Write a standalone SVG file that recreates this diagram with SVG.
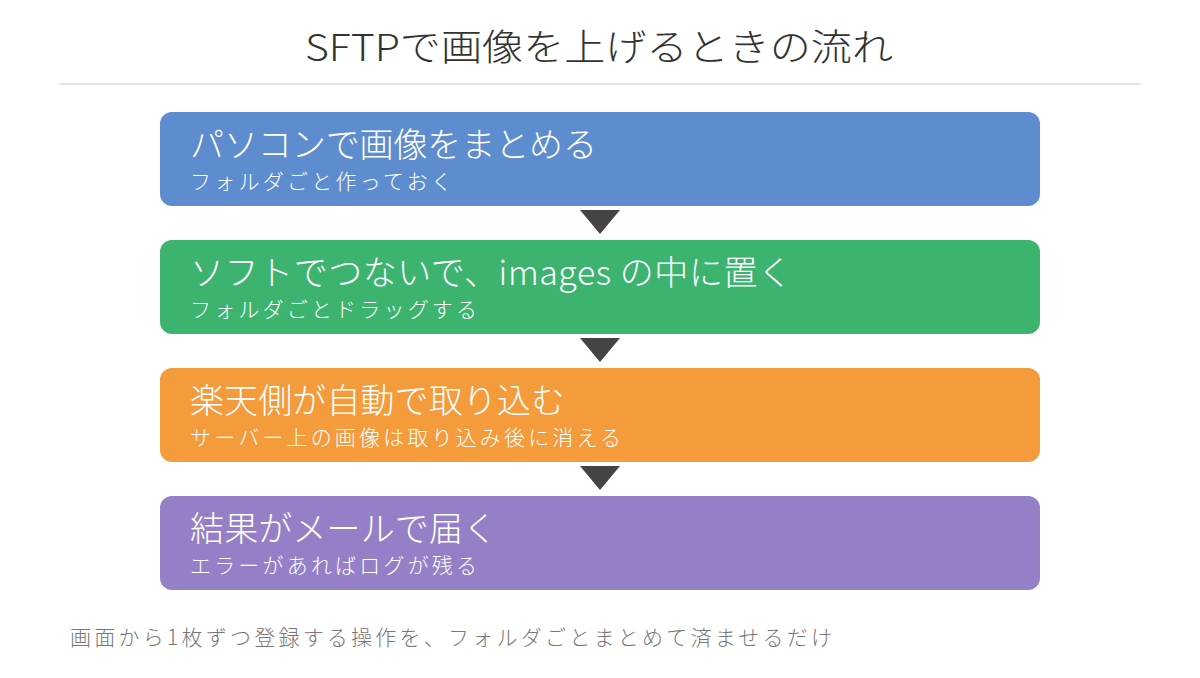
<svg xmlns="http://www.w3.org/2000/svg" width="1200" height="678" viewBox="0 0 1200 678">
<style>
.t{font-family:"Noto Sans CJK JP","Noto Sans",sans-serif;font-weight:300;}
.m{font-size:34px;fill:#fff;}
.s{font-size:21px;fill:#fff;}
.a{fill:#444;}
</style>
<rect width="1200" height="678" fill="#fff"/>
<text class="t" x="305" y="61" font-size="37" fill="#333" textLength="588" lengthAdjust="spacingAndGlyphs">SFTPで画像を上げるときの流れ</text>
<line x1="60" y1="84" x2="1140" y2="84" stroke="#e3e3e3" stroke-width="2"/>
<g id="n1"><rect x="160" y="112" width="880" height="94" rx="12" fill="#5D8CCF"/>
<text class="t m" x="190" y="157" textLength="407">パソコンで画像をまとめる</text><text class="t s" x="190" y="189" textLength="262">フォルダごと作っておく</text></g>
<g id="n2"><rect x="160" y="240" width="880" height="94" rx="12" fill="#3DB370"/>
<text class="t m" x="190" y="285" textLength="602">ソフトでつないで、images の中に置く</text><text class="t s" x="190" y="317" textLength="287">フォルダごとドラッグする</text></g>
<g id="n3"><rect x="160" y="368" width="880" height="94" rx="12" fill="#F49B3B"/>
<text class="t m" x="190" y="413" textLength="375">楽天側が自動で取り込む</text><text class="t s" x="190" y="445" textLength="431">サーバー上の画像は取り込み後に消える</text></g>
<g id="n4"><rect x="160" y="496" width="880" height="94" rx="12" fill="#957FC6"/>
<text class="t m" x="190" y="541" textLength="307">結果がメールで届く</text><text class="t s" x="190" y="573" textLength="287">エラーがあればログが残る</text></g>
<g id="connectors">
<polygon class="a" points="580,210 620,210 600,234"/>
<polygon class="a" points="580,338 620,338 600,362"/>
<polygon class="a" points="580,466 620,466 600,490"/>
</g>
<text class="t" x="70" y="645" font-size="21" fill="#777" textLength="762">画面から1枚ずつ登録する操作を、フォルダごとまとめて済ませるだけ</text>
</svg>
